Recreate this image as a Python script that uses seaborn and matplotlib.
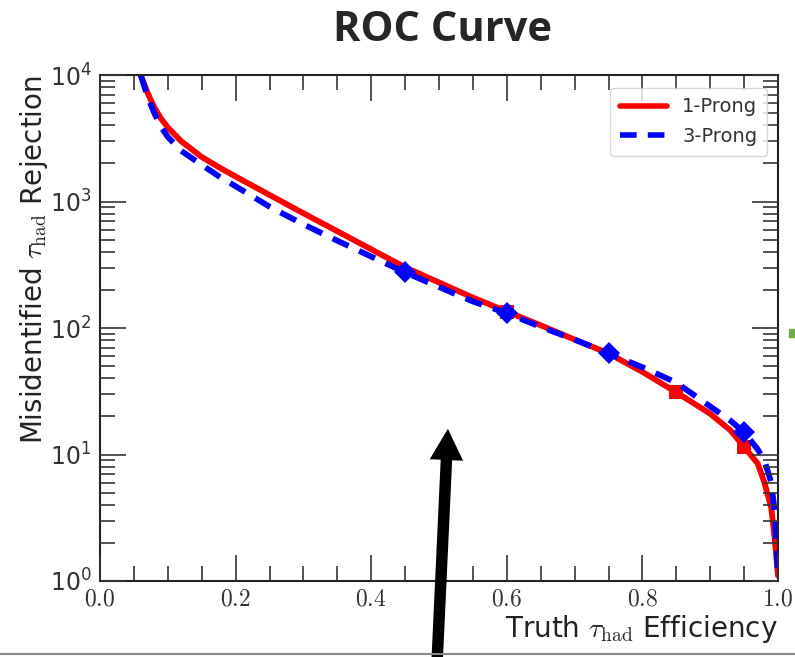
import numpy as np
import pandas as pd
import seaborn as sns
import matplotlib
matplotlib.use("Agg")
import matplotlib.pyplot as plt
from matplotlib.ticker import FuncFormatter, LogLocator, MultipleLocator, LogFormatterMathtext
from matplotlib.patches import Rectangle, FancyArrowPatch
from matplotlib.lines import Line2D

# ---- data ----
efficiency = [0.06, 0.07, 0.08, 0.09, 0.10, 0.12, 0.15, 0.175, 0.20, 0.25, 0.30, 0.35,
              0.40, 0.45, 0.50, 0.55, 0.60, 0.65, 0.70, 0.75, 0.80, 0.85, 0.90, 0.93,
              0.95, 0.97, 0.98, 0.99, 0.995, 1.0]
rej_1prong = [10000, 7250, 5560, 4520, 3850, 2990, 2250, 1870, 1575, 1127, 807, 582,
              419, 302, 229, 174, 135, 105, 81, 63, 45, 31, 21, 15.5,
              11.5, 8.5, 6.0, 3.8, 2.2, 1.1]
rej_3prong = [10000, 6760, 5010, 3890, 3240, 2510, 1950, 1585, 1320, 910, 660, 490,
              367, 275, 211, 162, 131, 102, 81, 63, 49, 37, 24, 18.5,
              15, 11, 9, 6, 3.6, 1.1]
markers_1prong_x = [0.60, 0.85, 0.95]
markers_3prong_x = [0.45, 0.60, 0.75, 0.95]
series_names = ["1-Prong", "3-Prong"]

sns.set_style("ticks")
plt.rcParams.update({
    "font.family": ["DejaVu Sans"],
    "mathtext.fontset": "cm",
    "xtick.direction": "in", "ytick.direction": "in",
    "xtick.top": True, "ytick.right": True,
    "xtick.bottom": True, "ytick.left": True,
    "xtick.major.size": 19, "ytick.major.size": 19,
    "xtick.minor.size": 11, "ytick.minor.size": 11,
    "xtick.major.width": 1.2, "ytick.major.width": 1.2,
    "xtick.minor.width": 1.2, "ytick.minor.width": 1.2,
    "xtick.color": "#333333", "ytick.color": "#333333",
    "axes.axisbelow": False,
})

fig = plt.figure(figsize=(7.95, 6.57), dpi=100)
ax = fig.add_axes([100/795, 1 - 581/657, 678/795, 506/657])

df = pd.DataFrame({"eff": efficiency + efficiency,
                   "rej": rej_1prong + rej_3prong,
                   "series": [series_names[0]]*len(efficiency) + [series_names[1]]*len(efficiency)})

idx1 = [efficiency.index(v) for v in markers_1prong_x]
idx3 = [efficiency.index(v) for v in markers_3prong_x]

sns.lineplot(data=df[df.series == "1-Prong"], x="eff", y="rej", ax=ax, color="#ff0000",
             lw=4.2, marker="s", markersize=9.5, markevery=idx1, markeredgewidth=0,
             legend=False)
sns.lineplot(data=df[df.series == "3-Prong"], x="eff", y="rej", ax=ax, color="#0000ff",
             lw=4.2, ls=(0, (3.0, 2.0)), marker="D", markersize=11, markevery=idx3,
             markeredgewidth=0, legend=False)

ax.set_yscale("log")
ax.set_xlim(0, 1)
ax.set_ylim(1, 1e4)

ax.xaxis.set_major_locator(MultipleLocator(0.2))
ax.xaxis.set_minor_locator(MultipleLocator(0.05))
ax.xaxis.set_major_formatter(FuncFormatter(lambda v, p: f"${v:.1f}$"))
ax.yaxis.set_major_locator(LogLocator(base=10, numticks=10))
ax.yaxis.set_minor_locator(LogLocator(base=10, subs=np.arange(2, 10), numticks=20))
ax.yaxis.set_major_formatter(LogFormatterMathtext())

ax.tick_params(which="both", direction="in", top=True, right=True, bottom=True, left=True)
ax.tick_params(which="major", labelsize=17, pad=6, labelcolor="#333333")
ax.tick_params(axis="x", which="major", pad=4)
for s in ax.spines.values():
    s.set_visible(True)
    s.set_linewidth(1.5)
    s.set_color("#222222")

ax.set_xlabel(r"Truth $\tau_{\mathrm{had}}$ Efficiency", fontsize=20, color="#222222",
              loc="right", labelpad=2)
ax.set_ylabel(r"Misidentified $\tau_{\mathrm{had}}$ Rejection", fontsize=20, color="#222222",
              loc="top", labelpad=0)

leg_handles = [Line2D([], [], color="#ff0000", lw=4),
               Line2D([], [], color="#0000ff", lw=4, ls=(0, (3.0, 2.0)))]
leg = ax.legend(leg_handles, series_names, loc="upper right", fontsize=14,
                frameon=True, fancybox=True, edgecolor="#cccccc", handlelength=2.4,
                borderpad=0.5, labelspacing=0.55, borderaxespad=0,
                bbox_to_anchor=(0.984, 0.975))
leg.get_frame().set_linewidth(1.0)
for t in leg.get_texts():
    t.set_color("#333333")

fig.text(0.556, 0.953, "ROC Curve", ha="center", va="center", fontsize=30,
         fontweight="bold", family=["Open Sans", "DejaVu Sans"])

# decorations from the slide
fig.add_artist(Line2D([0, 1], [1 - 654/657, 1 - 654/657], transform=fig.transFigure,
                      color="#888888", lw=1.5))
fig.patches.append(Rectangle((789/795, 1 - 337/657), 8/795, 8/657,
                             transform=fig.transFigure, color="#70ad47", figure=fig))
fig.add_artist(FancyArrowPatch(
    (437/795, -0.01), (448/795, 1 - 426/657), transform=fig.transFigure,
    arrowstyle="simple,head_length=1.5,head_width=1.6,tail_width=0.55",
    mutation_scale=15, color="black", lw=0))

fig.savefig("out.png", dpi=100)
